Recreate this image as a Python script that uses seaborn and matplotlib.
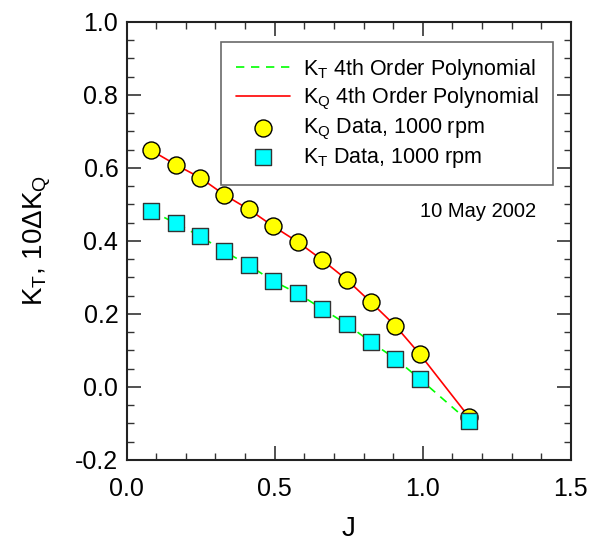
import numpy as np
import pandas as pd
import matplotlib
matplotlib.use("Agg")
import matplotlib.pyplot as plt
import seaborn as sns
from matplotlib.ticker import MultipleLocator, FormatStrFormatter

J = [0.082, 0.165, 0.248, 0.330, 0.413, 0.495, 0.578, 0.660, 0.743, 0.825, 0.908, 0.990, 1.155]
KQ10 = [0.648, 0.609, 0.573, 0.526, 0.486, 0.440, 0.397, 0.348, 0.294, 0.232, 0.167, 0.090, -0.081]
KT = [0.483, 0.448, 0.413, 0.371, 0.333, 0.290, 0.256, 0.214, 0.172, 0.123, 0.077, 0.022, -0.094]

df = pd.DataFrame({"J": J, "KQ": KQ10, "KT": KT})

sns.set_theme(style="white", rc={
    "xtick.direction": "in", "ytick.direction": "in",
    "xtick.top": True, "ytick.right": True,
    "xtick.bottom": True, "ytick.left": True,
    "xtick.minor.visible": True, "ytick.minor.visible": True,
    "xtick.major.size": 10, "ytick.major.size": 10,
    "xtick.minor.size": 5, "ytick.minor.size": 5,
    "xtick.major.width": 1.2, "ytick.major.width": 1.2,
    "xtick.minor.width": 1.0, "ytick.minor.width": 1.0,
    "xtick.color": "#333333", "ytick.color": "#333333",
    "xtick.labelcolor": "black", "ytick.labelcolor": "black",
    "text.color": "black", "axes.labelcolor": "black",
})
plt.rcParams["font.family"] = ["Liberation Sans", "DejaVu Sans"]
plt.rcParams["mathtext.fontset"] = "custom"
plt.rcParams["mathtext.rm"] = "Liberation Sans"
plt.rcParams["mathtext.it"] = "Liberation Sans:italic"
plt.rcParams["mathtext.default"] = "regular"

fig = plt.figure(figsize=(5.97, 5.43), dpi=100)
ax = fig.add_axes([0.2122, 0.1529, 0.7438, 0.8071])

sns.lineplot(data=df, x="J", y="KT", ax=ax, color="#00FF00", linestyle=(0, (5, 4)),
             linewidth=1.2, label=r"$K_T$ 4th Order Polynomial", sort=True)
sns.lineplot(data=df, x="J", y="KQ", ax=ax, color="#FF0000", linewidth=1.2,
             label=r"$K_Q$ 4th Order Polynomial", sort=True)
sns.scatterplot(data=df, x="J", y="KQ", ax=ax, marker="o", s=150, color="#FFFF00",
                edgecolor="black", linewidth=1.0, label=r"$K_Q$ Data, 1000 rpm", zorder=3)
sns.scatterplot(data=df, x="J", y="KT", ax=ax, marker="s", s=120, color="#00FFFF",
                edgecolor="#333333", linewidth=1.0, label=r"$K_T$ Data, 1000 rpm", zorder=4)

ax.set_xlim(0, 1.5)
ax.set_ylim(-0.2, 1.0)
ax.xaxis.set_major_locator(MultipleLocator(0.5))
ax.xaxis.set_minor_locator(MultipleLocator(0.1))
ax.yaxis.set_major_locator(MultipleLocator(0.2))
ax.yaxis.set_minor_locator(MultipleLocator(0.05))
ax.xaxis.set_major_formatter(FormatStrFormatter("%.1f"))
ax.yaxis.set_major_formatter(FormatStrFormatter("%.1f"))

ax.tick_params(which="both", direction="in", top=True, right=True, bottom=True, left=True,
               labelsize=18, color="#333333")
ax.tick_params(which="major", length=10, width=1.2)
ax.tick_params(which="minor", length=5, width=1.0)
ax.tick_params(axis="x", which="major", pad=12)
ax.tick_params(axis="y", which="major", pad=6)
for s in ax.spines.values():
    s.set_linewidth(1.5)
    s.set_color("#222222")
    s.set_visible(True)

ax.set_xlabel("J", fontsize=20, labelpad=11)
ax.set_ylabel(r"$K_T$, 10$\Delta$$K_Q$", fontsize=20, labelpad=16)

leg = ax.legend(loc="upper right", bbox_to_anchor=(0.96, 0.954), borderaxespad=0,
                fontsize=15.5, frameon=True, fancybox=False, edgecolor="#444444",
                handlelength=2.5, labelspacing=0.2, borderpad=0.7, handletextpad=0.6)
leg.get_frame().set_linewidth(1.2)
leg.set_zorder(10)

ax.text(0.791, 0.566, "10 May 2002", transform=ax.transAxes, fontsize=14.5,
        ha="center", va="center")

fig.savefig("out.png", dpi=100)
